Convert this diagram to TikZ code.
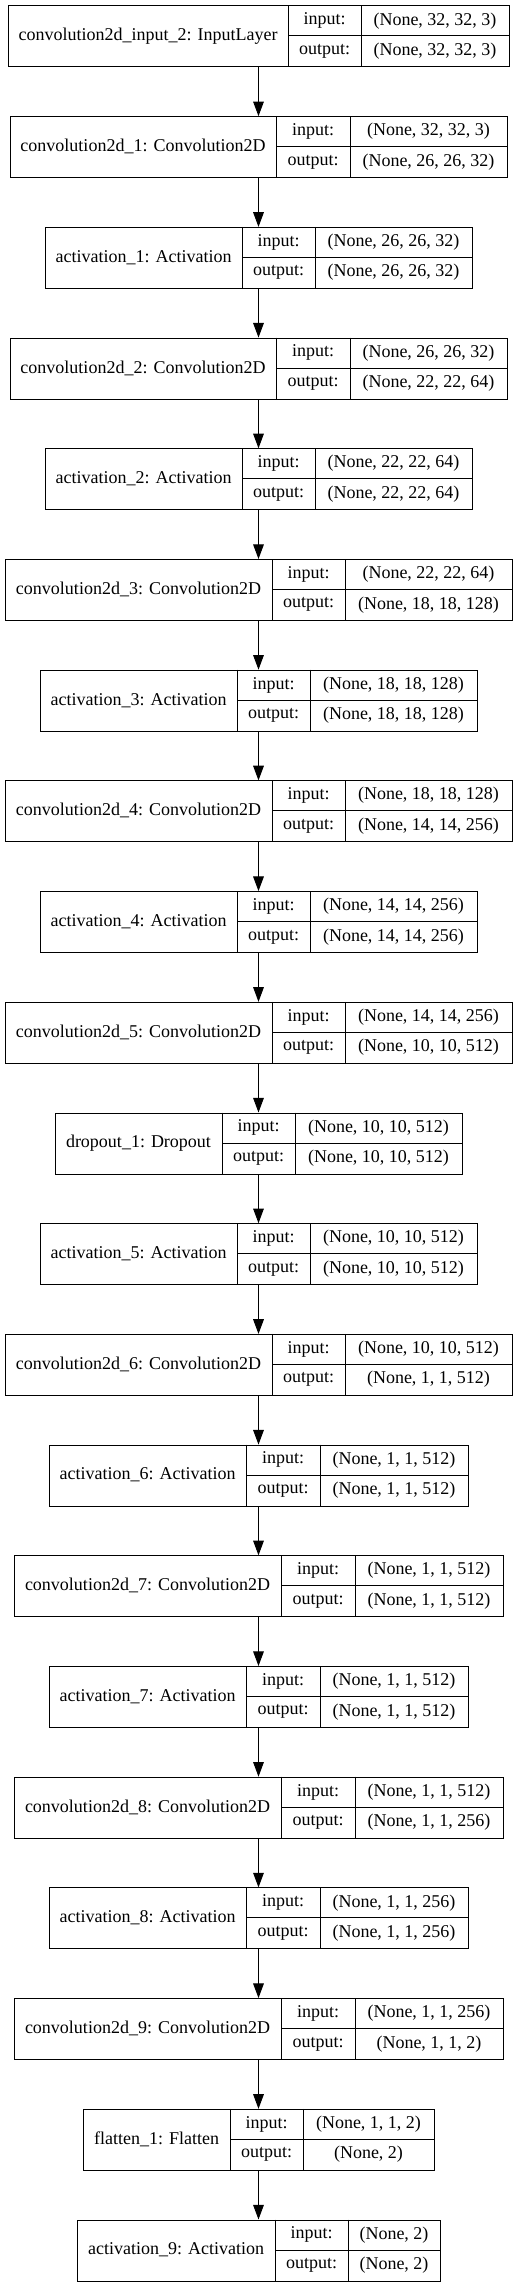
\documentclass[tikz,border=0pt]{standalone}
\usepackage{fontspec}
\setmainfont{Liberation Serif}
\usetikzlibrary{arrows.meta}

\tikzset{
  record/.style={draw, line width=0.75pt, inner sep=0pt, minimum height=45.75pt},
  cell/.style={inner sep=0pt, font=\fontsize{13.5}{16}\selectfont},
  flow/.style={-{Triangle[length=11pt,width=8pt]}, line width=0.75pt}
}

\begin{document}
\begin{tikzpicture}[x=0.75pt, y=-0.75pt] % one unit = one pixel, y goes down
\useasboundingbox (0,0) rectangle (517,2287);

\foreach \i/\xl/\xa/\xb/\xr/\nm/\inp/\outp in {
 0/8/288/361/509/{convolution2d\_input\_2: InputLayer}/{(None, 32, 32, 3)}/{(None, 32, 32, 3)},
 1/10/276/350/507/{convolution2d\_1: Convolution2D}/{(None, 32, 32, 3)}/{(None, 26, 26, 32)},
 2/45/242/315/472/{activation\_1: Activation}/{(None, 26, 26, 32)}/{(None, 26, 26, 32)},
 3/10/276/350/507/{convolution2d\_2: Convolution2D}/{(None, 26, 26, 32)}/{(None, 22, 22, 64)},
 4/45/242/315/472/{activation\_2: Activation}/{(None, 22, 22, 64)}/{(None, 22, 22, 64)},
 5/5/272/345/512/{convolution2d\_3: Convolution2D}/{(None, 22, 22, 64)}/{(None, 18, 18, 128)},
 6/40/237/310/477/{activation\_3: Activation}/{(None, 18, 18, 128)}/{(None, 18, 18, 128)},
 7/5/272/345/512/{convolution2d\_4: Convolution2D}/{(None, 18, 18, 128)}/{(None, 14, 14, 256)},
 8/40/237/310/477/{activation\_4: Activation}/{(None, 14, 14, 256)}/{(None, 14, 14, 256)},
 9/5/272/345/512/{convolution2d\_5: Convolution2D}/{(None, 14, 14, 256)}/{(None, 10, 10, 512)},
 10/55/222/295/462/{dropout\_1: Dropout}/{(None, 10, 10, 512)}/{(None, 10, 10, 512)},
 11/40/237/310/477/{activation\_5: Activation}/{(None, 10, 10, 512)}/{(None, 10, 10, 512)},
 12/5/272/345/512/{convolution2d\_6: Convolution2D}/{(None, 10, 10, 512)}/{(None, 1, 1, 512)},
 13/49/246/320/468/{activation\_6: Activation}/{(None, 1, 1, 512)}/{(None, 1, 1, 512)},
 14/14/281/355/503/{convolution2d\_7: Convolution2D}/{(None, 1, 1, 512)}/{(None, 1, 1, 512)},
 15/49/246/320/468/{activation\_7: Activation}/{(None, 1, 1, 512)}/{(None, 1, 1, 512)},
 16/14/281/355/503/{convolution2d\_8: Convolution2D}/{(None, 1, 1, 512)}/{(None, 1, 1, 256)},
 17/49/246/320/468/{activation\_8: Activation}/{(None, 1, 1, 256)}/{(None, 1, 1, 256)},
 18/14/281/355/503/{convolution2d\_9: Convolution2D}/{(None, 1, 1, 256)}/{(None, 1, 1, 2)},
 19/83/230/303/434/{flatten\_1: Flatten}/{(None, 1, 1, 2)}/{(None, 2)},
 20/77/275/348/440/{activation\_9: Activation}/{(None, 2)}/{(None, 2)}}
{
 \pgfmathsetmacro\ytop{5.5+110.7*\i}
 \node[record, minimum width={(\xr-\xl)*0.75pt}, anchor=north] (b\i) at ({(\xl+\xr)/2},\ytop) {};
 \draw[line width=0.75pt] (\xa,\ytop) -- ++(0,61) (\xb,\ytop) -- ++(0,61)
  (\xa,\ytop+30.5) -- (\xr,\ytop+30.5);
 \node[cell] (nm\i) at ({(\xl+\xa)/2},\ytop+30.5) {\nm};
 \node[cell] (ki\i) at ({(\xa+\xb)/2},\ytop+15.25) {input:};
 \node[cell] (ko\i) at ({(\xa+\xb)/2},\ytop+45.75) {output:};
 \node[cell] (vi\i) at ({(\xb+\xr)/2},\ytop+15.25) {\inp};
 \node[cell] (vo\i) at ({(\xb+\xr)/2},\ytop+45.75) {\outp};
}

\foreach \i [evaluate=\i as \j using int(\i+1)] in {0,...,19}
 \draw[flow] (b\i.south) -- (b\j.north);
\end{tikzpicture}
\end{document}
